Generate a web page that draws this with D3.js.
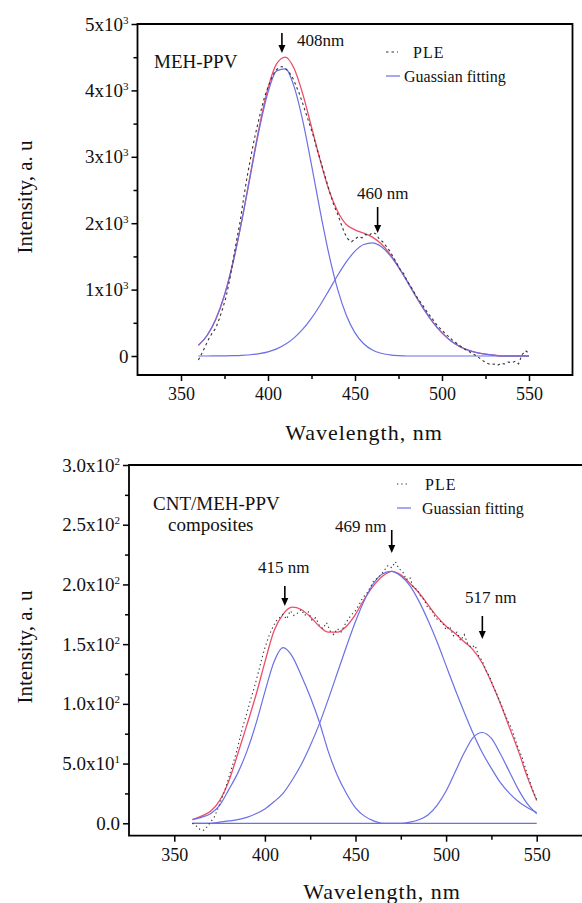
<!DOCTYPE html>
<html>
<head>
<meta charset="utf-8">
<script src="https://cdn.jsdelivr.net/npm/d3@7"></script>
<style>
  body { margin: 0; background: #fff; }
  svg { display: block; }
  svg text { font-family: "Times New Roman", Times, "Liberation Serif", "DejaVu Serif", serif; fill: #111; }
</style>
</head>
<body>
<script>
// wavelength grids (nm)
var wlFit = [360,365,370,375,380,385,390,395,400,405,410,415,420,425,430,435,440,445,450,455,
  460,465,470,475,480,485,490,495,500,505,510,515,520,525,530,535,540,545,550];
var wlPle = [360,362,364,366,368,370,372,374,376,378,380,382,384,386,388,390,392,394,396,398,
  400,402,404,406,408,410,412,414,416,418,420,422,424,426,428,430,432,434,436,438,
  440,442,444,446,448,450,452,454,456,458,460,462,464,466,468,470,472,474,476,478,
  480,482,484,486,488,490,492,494,496,498,500,502,504,506,508,510,512,514,516,518,
  520,522,524,526,528,530,532,534,536,538,540,542,544,546,548,550];

// --- MEH-PPV (top) ---
var mehPle = [-60,40,150,260,350,420,560,720,900,1150,1450,1750,2030,2380,2700,2980,3250,3480,3700,3900,
  4050,4180,4290,4340,4360,4330,4280,4200,4080,3950,3800,3640,3480,3320,3130,2960,2780,2600,2420,2260,
  2140,1990,1850,1760,1720,1760,1800,1780,1830,1810,1860,1840,1760,1720,1650,1580,1490,1400,1300,1240,
  1130,1050,960,870,800,720,640,580,500,440,390,330,290,240,200,160,120,90,60,30,
  0,-40,-80,-110,-130,-120,-140,-110,-120,-90,-100,-80,-120,20,80,40];
var mehG1 = [161,309,552,917,1418,2042,2737,3416,3970,4294,4325,4056,3540,2878,2178,1534,1006,614,349,185,
  91,42,18,5,0,0,0,0,0,0,0,0,0,0,0,0,0,0,0];
var mehG2 = [0,0,1,2,5,10,19,36,63,108,176,273,404,571,769,988,1212,1417,1579,1679,
  1703,1648,1521,1338,1124,900,688,501,348,231,146,88,51,28,12,0,0,0,0];
var mehSum = [161,309,553,919,1423,2052,2756,3452,4033,4402,4501,4329,3944,3449,2947,2500,2180,1980,1900,1850,
  1790,1690,1539,1343,1124,900,688,501,348,231,146,88,51,28,12,0,0,0,0];

// --- CNT/MEH-PPV composites (bottom) ---
var cntPle = [0,-2,-5,-6,-3,1,5,12,20,28,38,48,58,70,82,92,103,113,124,136,
  147,156,163,169,172,175,171,178,174,176,179,174,177,170,172,166,163,168,161,158,
  163,160,166,171,175,178,183,189,192,197,203,205,208,212,216,214,219,213,211,204,
  206,197,196,190,187,180,179,172,170,168,162,165,157,160,153,158,150,147,149,140,
  136,128,123,115,108,101,93,86,80,71,62,55,45,36,27,20];
var cntG1 = [3,5,8,15,28,42,60,83,110,135,147,140,124,106,85,60,40,25,13,6,
  2,0,0,0,0,0,0,0,0,0,0,0,0,0,0,0,0,0,0];
var cntG2 = [0,0,0,1,2,3,5,8,12,18,25,36,49,65,83,104,126,148,169,187,
  201,209,211,207,199,186,170,152,132,112,93,75,59,46,34,25,18,13,9];
var cntG3 = [0,0,0,0,0,0,0,0,0,0,0,0,0,0,0,0,0,0,0,0,
  0,0,0,0,1,3,7,15,27,43,59,72,76,71,58,43,28,16,8];
var cntSum = [3,6,10,19,35,58,82,107,135,161,175,181,179,173,165,160,160,165,175,188,
  199,207,211,208,201,193,183,173,165,159,152,145,134,118,100,80,60,38,19];

// ticks
var xMajor = [350, 400, 450, 500, 550];
var xMinor = [375, 425, 475, 525];
var mehYMajor = [0, 1000, 2000, 3000, 4000, 5000];
var mehYLabels = ["0", "1x10^3", "2x10^3", "3x10^3", "4x10^3", "5x10^3"];
var mehYMinor = [500, 1500, 2500, 3500, 4500];
var cntYMajor = [0, 50, 100, 150, 200, 250, 300];
var cntYLabels = ["0.0", "5.0x10^1", "1.0x10^2", "1.5x10^2", "2.0x10^2", "2.5x10^2", "3.0x10^2"];
var cntYMinor = [25, 75, 125, 175, 225, 275];

var blue = "#6b70e6", red = "#ee4d6a", pleColor = "#333";
var serif = "'Times New Roman', Times, 'Liberation Serif', 'DejaVu Serif', serif";

var svg = d3.select("body").append("svg")
  .attr("width", 582)
  .attr("height", 903)
  .attr("font-family", serif);

var zip = function(xs, ys) { return xs.map(function(x, i) { return [x, ys[i]]; }); };

var tickLabel = function(sel, s) {
  var parts = s.split("^");
  sel.text(null);
  sel.append("tspan").text(parts[0]);
  if (parts[1]) sel.append("tspan").attr("dy", -7).attr("font-size", 11).text(parts[1]);
};

var drawPanel = function(p) {
  var x = d3.scaleLinear().domain([325, 575]).range([p.left, p.right]);
  var y = d3.scaleLinear().domain(p.yDomain).range([p.bottom, p.top]);
  var g = svg.append("g");

  // x ticks
  var xa = g.append("g").attr("transform", "translate(0," + p.bottom + ")");
  xa.call(d3.axisBottom(x).tickValues(xMajor).tickSize(6).tickFormat(d3.format("d")));
  xa.append("g").call(d3.axisBottom(x).tickValues(xMinor).tickSize(4).tickFormat(""));
  xa.attr("font-family", serif);
  xa.selectAll(".domain").remove();
  xa.selectAll("line").attr("stroke", "#000").attr("stroke-width", 1.5);
  xa.selectAll("text").attr("font-size", 18).attr("fill", "#111").attr("y", 10).attr("dy", "0.85em");

  // y ticks
  var ya = g.append("g").attr("transform", "translate(" + p.left + ",0)");
  ya.call(d3.axisLeft(y).tickValues(p.yMajor).tickSize(6)
    .tickFormat(function(d, i) { return p.yLabels[i]; }));
  ya.append("g").call(d3.axisLeft(y).tickValues(p.yMinor).tickSize(4).tickFormat(""));
  ya.attr("font-family", serif);
  ya.selectAll(".domain").remove();
  ya.selectAll("line").attr("stroke", "#000").attr("stroke-width", 1.5);
  ya.selectAll(".tick text").attr("font-size", 19).attr("fill", "#111").attr("x", -9)
    .each(function() {
      var t = d3.select(this);
      tickLabel(t, t.text());
    });

  // frame
  g.append("path")
    .attr("d", "M" + p.left + "," + p.bottom + "V" + p.top + "H" + p.frameRight + "V" + p.bottom + "Z")
    .attr("fill", "none").attr("stroke", "#000").attr("stroke-width", 1.8);

  var line = d3.line()
    .x(function(d) { return x(d[0]); })
    .y(function(d) { return y(d[1]); })
    .curve(d3.curveMonotoneX);

  g.append("path").datum(zip(wlFit, p.sum)).attr("d", line)
    .attr("fill", "none").attr("stroke", red).attr("stroke-width", 1.3);
  p.fits.forEach(function(f) {
    g.append("path").datum(zip(wlFit, f)).attr("d", line)
      .attr("fill", "none").attr("stroke", blue).attr("stroke-width", 1.2);
  });
  g.append("path").datum(zip(wlPle, p.ple)).attr("d", d3.line()
      .x(function(d) { return x(d[0]); })
      .y(function(d) { return y(d[1]); }))
    .attr("fill", "none").attr("stroke", pleColor).attr("stroke-width", 1.1)
    .attr("stroke-dasharray", p.dash);

  // annotations
  p.notes.forEach(function(n) {
    var ax = x(n.nm);
    g.append("line").attr("x1", ax).attr("x2", ax).attr("y1", n.y0).attr("y2", n.y1 - 6)
      .attr("stroke", "#000").attr("stroke-width", 1.6);
    g.append("path")
      .attr("d", "M" + (ax - 3.5) + "," + (n.y1 - 8) + "L" + (ax + 3.5) + "," + (n.y1 - 8) + "L" + ax + "," + n.y1 + "Z")
      .attr("fill", "#000");
    g.append("text").attr("x", n.tx).attr("y", n.ty).attr("font-size", 17).text(n.label);
  });

  // legend
  var lg = p.legend;
  g.append("line").attr("x1", lg.x).attr("x2", lg.x + 12).attr("y1", lg.y).attr("y2", lg.y)
    .attr("stroke", pleColor).attr("stroke-width", 1.1).attr("stroke-dasharray", p.dash);
  g.append("text").attr("x", lg.tx1).attr("y", lg.y + 6).attr("font-size", 16)
    .attr("letter-spacing", 1).text("PLE");
  g.append("line").attr("x1", lg.x).attr("x2", lg.x + 14).attr("y1", lg.y + 24).attr("y2", lg.y + 24)
    .attr("stroke", blue).attr("stroke-width", 1.2);
  g.append("text").attr("x", lg.tx2).attr("y", lg.y + 30).attr("font-size", 16).text("Guassian fitting");

  // panel title
  p.title.forEach(function(t) {
    g.append("text").attr("x", t.x).attr("y", t.y).attr("font-size", 19).text(t.text);
  });

  // axis titles
  g.append("text").attr("x", p.xTitle[0]).attr("y", p.xTitle[1]).attr("text-anchor", "middle")
    .attr("font-size", 22).attr("letter-spacing", 1).text("Wavelength, nm");
  g.append("text").attr("transform", "translate(" + p.yTitle[0] + "," + p.yTitle[1] + ") rotate(-90)")
    .attr("text-anchor", "middle").attr("font-size", 21).text("Intensity, a. u");
};

drawPanel({
  left: 137.5, right: 572.5, frameRight: 572.5, top: 24, bottom: 375,
  yDomain: [-286, 5000],
  yMajor: mehYMajor, yLabels: mehYLabels, yMinor: mehYMinor,
  sum: mehSum, fits: [mehG1, mehG2], ple: mehPle, dash: "2.5,3",
  notes: [
    { nm: 408, label: "408nm", y0: 33, y1: 53, tx: 297, ty: 46 },
    { nm: 463, label: "460 nm", y0: 207, y1: 233, tx: 357, ty: 199 }
  ],
  legend: { x: 386, y: 52, tx1: 413, tx2: 404 },
  title: [{ x: 154, y: 68, text: "MEH-PPV" }],
  xTitle: [364, 440], yTitle: [32, 197]
});

drawPanel({
  left: 129, right: 582, frameRight: 600, top: 465, bottom: 835.7,
  yDomain: [-10.4, 300],
  yMajor: cntYMajor, yLabels: cntYLabels, yMinor: cntYMinor,
  sum: cntSum, fits: [cntG1, cntG2, cntG3], ple: cntPle, dash: "1.3,3",
  notes: [
    { nm: 411, label: "415 nm", y0: 586, y1: 606, tx: 258, ty: 573 },
    { nm: 470, label: "469 nm", y0: 530, y1: 553, tx: 335, ty: 532 },
    { nm: 520, label: "517 nm", y0: 616, y1: 639, tx: 465, ty: 603 }
  ],
  legend: { x: 397, y: 484, tx1: 425, tx2: 422 },
  title: [{ x: 153, y: 510, text: "CNT/MEH-PPV" }, { x: 168, y: 531, text: "composites" }],
  xTitle: [382, 899], yTitle: [32, 647]
});
</script>
</body>
</html>
